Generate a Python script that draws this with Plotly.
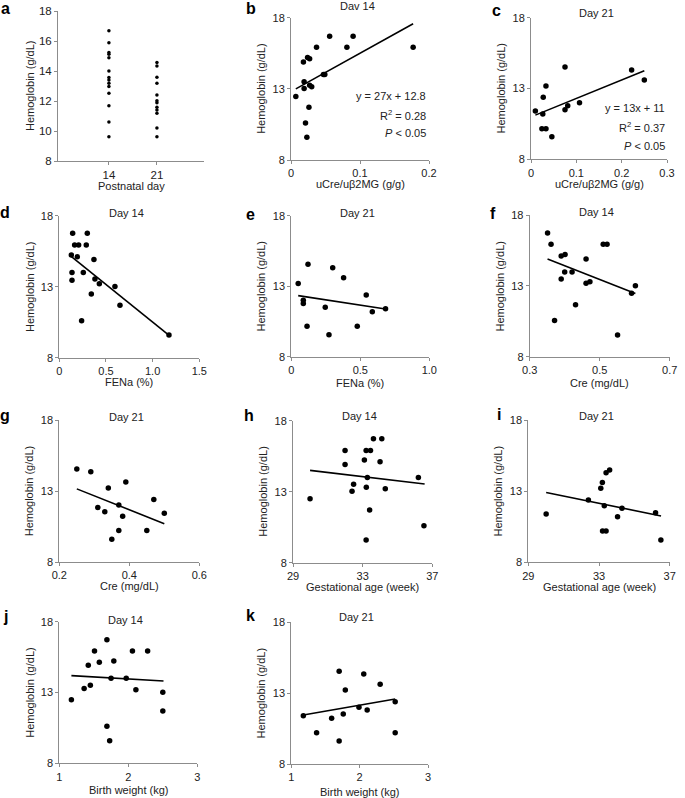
import plotly.graph_objects as go

W, H = 685, 798
FONT = "Arial, 'Liberation Sans', sans-serif"
AXIS_GRAY = "#8c8c8c"

# ---- data ----
# a: hemoglobin by postnatal day
a_days = ["14", "21"]
a_hb_14 = [16.69, 15.89, 15.24, 15.11, 14.89, 14.0, 13.56, 13.4, 13.18, 12.96, 12.51, 11.69, 10.6, 9.62]
a_hb_21 = [14.56, 14.33, 13.58, 13.18, 12.4, 12.02, 11.89, 11.58, 11.4, 11.18, 10.2, 9.62]

# b: uCre/ub2MG, day 14
b_x = [0.007, 0.018, 0.024, 0.027, 0.037, 0.056, 0.090, 0.081, 0.177, 0.047, 0.049,
       0.019, 0.019, 0.027, 0.030, 0.026, 0.021, 0.023]
b_y = [12.47, 14.89, 15.21, 15.12, 15.92, 16.69, 16.69, 15.92, 15.92, 14.0, 14.0,
       13.5, 13.03, 13.25, 13.15, 11.7, 10.6, 9.59]
b_fit_x = [0.007, 0.177]
b_fit_y = [13.0, 17.58]
b_stats = ["y = 27x + 12.8", "R<sup>2</sup> = 0.28", "<i>P</i> &lt; 0.05"]

# c: uCre/ub2MG, day 21
c_x = [0.0096, 0.026, 0.027, 0.033, 0.024, 0.033, 0.046, 0.075, 0.075, 0.081, 0.107, 0.222, 0.250]
c_y = [11.41, 11.2, 12.38, 13.18, 10.16, 10.16, 9.6, 14.52, 11.5, 11.79, 12.0, 14.31, 13.6]
c_fit_x = [0.0096, 0.25]
c_fit_y = [11.12, 14.25]
c_stats = ["y = 13x + 11", "R<sup>2</sup> = 0.37", "<i>P</i> &lt; 0.05"]

# d: FENa, day 14
d_x = [0.143, 0.3, 0.164, 0.207, 0.289, 0.129, 0.193, 0.371, 0.136, 0.257, 0.382, 0.429,
       0.136, 0.596, 0.343, 0.65, 0.239, 1.175]
d_y = [16.76, 16.76, 15.93, 15.93, 15.93, 15.23, 15.11, 14.92, 14.0, 14.0, 13.54, 13.21,
       13.45, 13.02, 12.48, 11.69, 10.61, 9.6]
d_fit_x = [0.13, 1.18]
d_fit_y = [15.11, 9.55]
d_stats = ["y = -5.3x + 15.8", "R<sup>2</sup> = 0.45", "<i>P</i> &lt; 0.01"]

# e: FENa, day 21
e_x = [0.05, 0.121, 0.3, 0.379, 0.543, 0.087, 0.087, 0.246, 0.683, 0.587, 0.114, 0.478, 0.273]
e_y = [13.2, 14.55, 14.31, 13.6, 12.37, 12.0, 11.78, 11.5, 11.4, 11.19, 10.16, 10.16, 9.56]
e_fit_x = [0.05, 0.683]
e_fit_y = [12.33, 11.38]
e_stats = ["y = -1.5x + 12.4", "R<sup>2</sup> = 0.04", "<i>P</i> &gt; 0.05"]

# f: Cre, day 14
f_x = [0.351, 0.361, 0.51, 0.521, 0.39, 0.401, 0.461, 0.4, 0.421, 0.39, 0.461, 0.472,
       0.602, 0.591, 0.431, 0.371, 0.551]
f_y = [16.73, 15.93, 15.93, 15.93, 15.11, 15.22, 14.89, 13.98, 13.98, 13.48, 13.18, 13.29,
       13.01, 12.47, 11.67, 10.56, 9.53]
f_fit_x = [0.351, 0.602]
f_fit_y = [14.9, 12.46]
f_stats = ["y = -9.7x + 18.3", "R<sup>2</sup> = 0.14", "<i>P</i> &gt; 0.05"]

# g: Cre, day 21
g_x = [0.25, 0.29, 0.39, 0.34, 0.47, 0.31, 0.33, 0.37, 0.381, 0.5, 0.37, 0.45, 0.35]
g_y = [14.55, 14.36, 13.63, 13.21, 12.41, 11.83, 11.54, 12.01, 11.22, 11.43, 10.21, 10.21, 9.6]
g_fit_x = [0.25, 0.5]
g_fit_y = [13.15, 10.7]
g_stats = ["y = -9.8x + 15.6", "R<sup>2</sup> = 0.2", "<i>P</i> &gt; 0.05"]

# h: gestational age, day 14
h_x = [29.98, 31.99, 31.99, 32.39, 32.48, 33.1, 33.2, 33.45, 33.62, 34.1, 34.0, 33.27,
       33.21, 34.3, 33.4, 36.2, 36.52, 33.2]
h_y = [12.51, 15.91, 14.92, 13.04, 13.52, 15.23, 15.91, 15.91, 16.73, 16.73, 15.11, 14.0,
       13.31, 13.21, 11.71, 14.0, 10.6, 9.6]
h_fit_x = [29.98, 36.56]
h_fit_y = [14.5, 13.54]
h_stats = ["y = -0.14x + 18.8", "R<sup>2</sup> = 0.01", "<i>P</i> &gt; 0.05"]

# i: gestational age, day 21
i_x = [30.01, 32.4, 33.1, 33.19, 33.4, 33.6, 33.3, 34.3, 34.05, 36.2, 33.2, 33.4, 36.5]
i_y = [11.4, 12.38, 13.2, 13.6, 14.3, 14.49, 11.98, 11.79, 11.2, 11.49, 10.2, 10.2, 9.57]
i_fit_x = [30.01, 36.51]
i_fit_y = [12.9, 11.26]
i_stats = ["y = -0.25x + 20.3", "R<sup>2</sup> = 0.06", "<i>P</i> &gt; 0.05"]

# j: birth weight, day 14
j_x = [1.175, 1.36, 1.45, 1.42, 1.51, 1.58, 1.69, 1.79, 1.75, 1.97, 2.06, 2.28, 2.11,
       2.5, 2.5, 1.69, 1.73]
j_y = [12.49, 13.29, 13.51, 14.92, 15.93, 15.13, 16.73, 15.22, 14.0, 14.0, 15.93, 15.93,
       13.2, 13.01, 11.69, 10.61, 9.6]
j_fit_x = [1.175, 2.51]
j_fit_y = [14.19, 13.81]
j_stats = ["y = -0.3x + 14.5", "R<sup>2</sup> = 0.003", "<i>P</i> &gt; 0.05"]

# k: birth weight, day 21
k_x = [1.176, 1.37, 1.59, 1.7, 1.7, 1.76, 1.79, 1.99, 2.06, 2.11, 2.3, 2.52, 2.52]
k_y = [11.41, 10.21, 11.22, 14.54, 9.62, 11.53, 13.22, 12.0, 14.35, 11.81, 13.62, 12.4, 10.21]
k_fit_x = [1.176, 2.52]
k_fit_y = [11.46, 12.59]
k_stats = ["y = 0.9x + 10.4", "R<sup>2</sup> = 0.049", "<i>P</i> &gt; 0.05"]

# ---- panel layout (pixel boxes of the plot areas) ----
panels = [
    dict(key="b", x=b_x, y=b_y, fx=b_fit_x, fy=b_fit_y, stats=b_stats, title="Dav 14",
         xlabel="uCre/uβ2MG (g/g)", xrange=[0, 0.2], xt=[0, 0.1, 0.2], xtt=["0", "0.1", "0.2"],
         box=(291, 429, 17.7, 160), xl=24, sx=0.199, sy=[12.5, 11.16, 9.87], ty=6, lx=251, ly=8),
    dict(key="c", x=c_x, y=c_y, fx=c_fit_x, fy=c_fit_y, stats=c_stats, title="Day 21",
         xlabel="uCre/uβ2MG (g/g)", xrange=[0, 0.3], xt=[0, 0.1, 0.2, 0.3],
         xtt=["0", "0.1", "0.2", "0.3"], box=(531, 667, 17.7, 159.3), xl=24.5,
         sx=0.3, sy=[11.6, 10.26, 8.96], ty=12.7, lx=496, ly=10.7),
    dict(key="d", x=d_x, y=d_y, fx=d_fit_x, fy=d_fit_y, stats=d_stats, title="Day 14",
         xlabel="FENa (%)", xrange=[0, 1.5], xt=[0, 0.5, 1.0, 1.5], xtt=["0", "0.5", "1.0", "1.5"],
         box=(59.3, 199.3, 215.7, 357.7), xl=24.5, sx=1.525, sy=[16.64, 15.27, 13.94],
         ty=212.7, lx=5, ly=212.7),
    dict(key="e", x=e_x, y=e_y, fx=e_fit_x, fy=e_fit_y, stats=e_stats, title="Day 21",
         xlabel="FENa (%)", xrange=[0, 1.0], xt=[0, 0.5, 1.0], xtt=["0", "0.5", "1.0"],
         box=(291.3, 429.3, 215.7, 356.7), xl=26, sx=1.128, sy=[16.68, 15.41, 14.03],
         ty=212.7, lx=250, ly=214),
    dict(key="f", x=f_x, y=f_y, fx=f_fit_x, fy=f_fit_y, stats=f_stats, title="Day 14",
         xlabel="Cre (mg/dL)", xrange=[0.3, 0.7], xt=[0.3, 0.5, 0.7], xtt=["0.3", "0.5", "0.7"],
         box=(529.7, 669.7, 215, 356.7), xl=26, sx=0.743, sy=[17.25, 15.93, 14.66],
         ty=212.3, lx=493, ly=213.3),
    dict(key="g", x=g_x, y=g_y, fx=g_fit_x, fy=g_fit_y, stats=g_stats, title="Day 21",
         xlabel="Cre (mg/dL)", xrange=[0.2, 0.6], xt=[0.2, 0.4, 0.6], xtt=["0.2", "0.4", "0.6"],
         box=(59.3, 199.3, 420, 562), xl=24, sx=0.67, sy=[16.36, 15.07, 13.73],
         ty=416.7, lx=5, ly=415.7),
    dict(key="h", x=h_x, y=h_y, fx=h_fit_x, fy=h_fit_y, stats=h_stats, title="Day 14",
         xlabel="Gestational age (week)", xrange=[29, 37], xt=[29, 33, 37], xtt=["29", "33", "37"],
         box=(293, 432.3, 420.7, 562.7), xl=24, sx=39.1, sy=[17.41, 16.29, 15.11],
         ty=416, lx=249, ly=415),
    dict(key="i", x=i_x, y=i_y, fx=i_fit_x, fy=i_fit_y, stats=i_stats, title="Day 21",
         xlabel="Gestational age (week)", xrange=[29, 37], xt=[29, 33, 37], xtt=["29", "33", "37"],
         box=(528.3, 669.7, 420, 562.3), xl=24.5, sx=37.8, sy=[16.71, 15.59, 14.44],
         ty=416, lx=499, ly=414.3),
    dict(key="j", x=j_x, y=j_y, fx=j_fit_x, fy=j_fit_y, stats=j_stats, title="Day 14",
         xlabel="Birth weight (kg)", xrange=[1, 3], xt=[1, 2, 3], xtt=["1", "2", "3"],
         box=(59.3, 197.3, 621.7, 763.3), xl=27, sx=3.32, sy=[17.25, 15.93, 14.59],
         ty=620, lx=5, ly=616.7),
    dict(key="k", x=k_x, y=k_y, fx=k_fit_x, fy=k_fit_y, stats=k_stats, title="Day 21",
         xlabel="Birth weight (kg)", xrange=[1, 3], xt=[1, 2, 3], xtt=["1", "2", "3"],
         box=(291.3, 428, 622.3, 764), xl=27.5, sx=3.13, sy=[16.82, 15.51, 14.12],
         ty=616.7, lx=250, ly=615),
]


def px_x(v):
    return v / W


def px_y(v):
    return 1 - v / H


def axis_style(**kw):
    base = dict(showline=True, linecolor=AXIS_GRAY, linewidth=1, ticks="outside", ticklen=3,
                tickcolor=AXIS_GRAY, tickwidth=1, showgrid=False, zeroline=False,
                automargin=False, tickfont=dict(family=FONT, size=11, color="#222"),
                fixedrange=True)
    base.update(kw)
    return base


fig = go.Figure()
layout = {}
annotations = []

# panel a (categorical x)
fig.add_trace(go.Scatter(x=[a_days[0]] * len(a_hb_14), y=a_hb_14, mode="markers",
                         marker=dict(color="black", size=3.5), xaxis="x", yaxis="y",
                         showlegend=False, hoverinfo="skip"))
fig.add_trace(go.Scatter(x=[a_days[1]] * len(a_hb_21), y=a_hb_21, mode="markers",
                         marker=dict(color="black", size=3.5), xaxis="x", yaxis="y",
                         showlegend=False, hoverinfo="skip"))
layout["xaxis"] = axis_style(domain=[px_x(58), px_x(204)], anchor="y", type="category",
                             range=[-1.06, 1.98], tickfont=dict(family=FONT, size=11.5, color="#222"))
layout["yaxis"] = axis_style(domain=[px_y(161), px_y(11)], anchor="x", range=[8, 18],
                             tickvals=[8, 10, 12, 14, 16, 18],
                             tickfont=dict(family=FONT, size=11.5, color="#222"))
annotations += [
    dict(text="<b>a</b>", x=px_x(5), y=px_y(8), xref="paper", yref="paper", showarrow=False,
         xanchor="center", yanchor="middle", font=dict(family=FONT, size=16, color="black")),
    dict(text="Hemoglobin (g/dL)", x=px_x(30), y=px_y(86), xref="paper", yref="paper",
         showarrow=False, textangle=-90, xanchor="center", yanchor="middle",
         font=dict(family=FONT, size=11, color="#222")),
    dict(text="Postnatal day", x=px_x(131), y=px_y(186), xref="paper", yref="paper",
         showarrow=False, xanchor="center", yanchor="middle",
         font=dict(family=FONT, size=11, color="#222")),
]

for n, p in enumerate(panels, start=2):
    xa, ya = f"x{n}", f"y{n}"
    x0, x1, y0, y1 = p["box"]
    fig.add_trace(go.Scatter(x=p["x"], y=p["y"], mode="markers",
                             marker=dict(color="black", size=5.5), xaxis=xa, yaxis=ya,
                             showlegend=False, hoverinfo="skip", cliponaxis=False))
    fig.add_trace(go.Scatter(x=p["fx"], y=p["fy"], mode="lines",
                             line=dict(color="black", width=1.6), xaxis=xa, yaxis=ya,
                             showlegend=False, hoverinfo="skip"))
    layout[f"xaxis{n}"] = axis_style(domain=[px_x(x0), px_x(x1)], anchor=ya, range=p["xrange"],
                                     tickvals=p["xt"], ticktext=p["xtt"])
    layout[f"yaxis{n}"] = axis_style(domain=[px_y(y1), px_y(y0)], anchor=xa, range=[8, 18],
                                     tickvals=[8, 13, 18])
    annotations.append(dict(text=f"<b>{p['key']}</b>", x=px_x(p["lx"]), y=px_y(p["ly"]),
                            xref="paper", yref="paper", showarrow=False, xanchor="center",
                            yanchor="middle", font=dict(family=FONT, size=16, color="black")))
    annotations.append(dict(text=p["title"], x=px_x((x0 + x1) / 2 - 3), y=px_y(p["ty"]),
                            xref="paper", yref="paper", showarrow=False, xanchor="center",
                            yanchor="middle", font=dict(family=FONT, size=11, color="#222")))
    annotations.append(dict(text="Hemoglobin (g/dL)", x=px_x(x0 - 30), y=px_y((y0 + y1) / 2),
                            xref="paper", yref="paper", showarrow=False, textangle=-90,
                            xanchor="center", yanchor="middle",
                            font=dict(family=FONT, size=11, color="#222")))
    annotations.append(dict(text=p["xlabel"], x=px_x((x0 + x1) / 2), y=px_y(y1 + p["xl"]),
                            xref="paper", yref="paper", showarrow=False, xanchor="center",
                            yanchor="middle", font=dict(family=FONT, size=11, color="#222")))
    for txt, sy in zip(p["stats"], p["sy"]):
        annotations.append(dict(text=txt, x=p["sx"], y=sy, xref=xa, yref=ya, showarrow=False,
                                xanchor="right", yanchor="middle",
                                font=dict(family=FONT, size=11, color="#222")))

fig.update_layout(
    width=W, height=H, autosize=False,
    margin=dict(l=0, r=0, t=0, b=0),
    paper_bgcolor="white", plot_bgcolor="white",
    font=dict(family=FONT, size=11, color="#222"),
    annotations=annotations,
    **layout,
)

# drop the page's default body margin so the figure sits at the top-left corner
fig.write_html("out.html", config={"displayModeBar": False},
               post_script="document.body.style.margin='0px';")
